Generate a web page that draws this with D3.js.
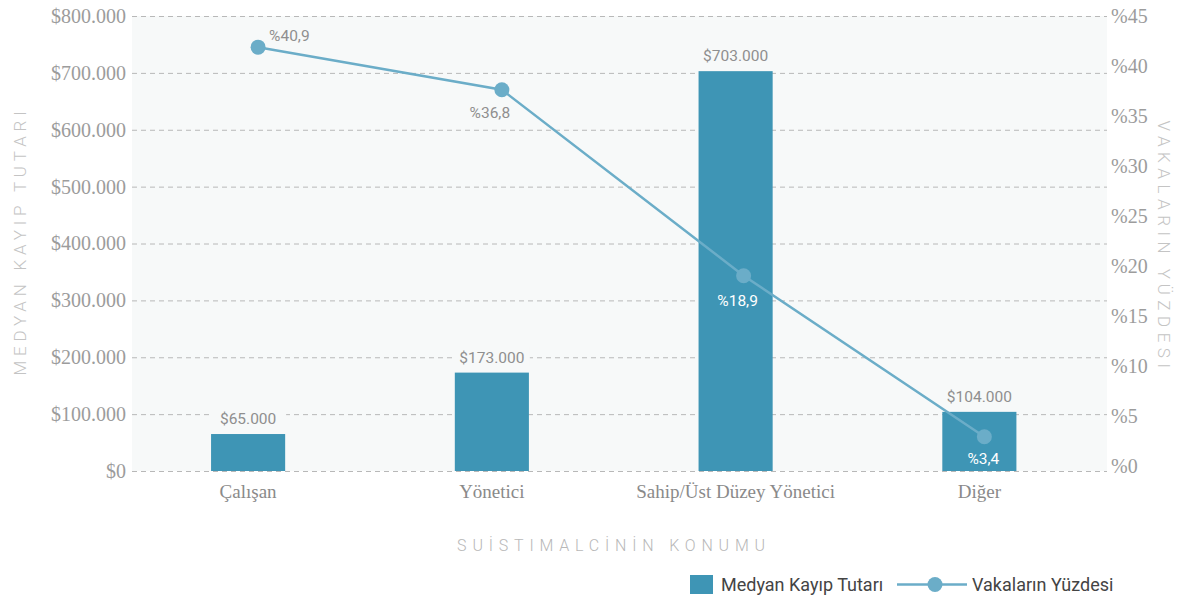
<!DOCTYPE html>
<html>
<head>
<meta charset="utf-8">
<script src="https://cdn.jsdelivr.net/npm/d3@7"></script>
<style>
  body { margin: 0; background: #fff; }
  svg { display: block; }
</style>
</head>
<body>
<div id="chart"></div>
<script>
// chart data
const categories = ['Çalışan', 'Yönetici', 'Sahip/Üst Düzey Yönetici', 'Diğer'];
const lossValues = [65000, 173000, 703000, 104000];
const casePercents = [40.9, 36.8, 18.9, 3.4];
const leftTicks = [0, 100000, 200000, 300000, 400000, 500000, 600000, 700000, 800000];
const rightTicks = [0, 5, 10, 15, 20, 25, 30, 35, 40, 45];

const W = 1180, H = 600;
const margin = { top: 16, right: 73, bottom: 129, left: 132 };
const innerW = W - margin.left - margin.right;
const innerH = H - margin.top - margin.bottom;

const barColor = '#3e95b5';
const lineColor = '#6badc8';
const plotBg = '#f7f9f9';

const fmtMoney = v => '$' + d3.format(',')(v).replace(/,/g, '.');
const fmtPct = v => '%' + String(v).replace('.', ',');

const svg = d3.select('#chart').append('svg')
    .attr('width', W)
    .attr('height', H);

const g = svg.append('g')
    .attr('transform', `translate(${margin.left},${margin.top})`);

// Scales
const x = d3.scaleBand()
    .domain(categories)
    .range([0, innerW])
    .paddingInner(0.696)
    .paddingOuter(0.348)
    .align(0.466);

const yLeft = d3.scaleLinear().domain([0, 800000]).range([innerH, 0]);
// right axis labels sit a bit above the gridlines
const yRightAxis = d3.scaleLinear().domain([0, 45]).range([innerH - 5, 0]);
const yLine = d3.scaleLinear().domain([0, 43.9]).range([innerH + 1, 0]);

// background
g.append('rect')
    .attr('width', innerW)
    .attr('height', innerH)
    .attr('fill', plotBg);

// gridlines
g.selectAll('.grid')
    .data(leftTicks)
    .enter().append('line')
    .attr('x1', 0)
    .attr('x2', innerW)
    .attr('y1', d => yLeft(d) + 0.5)
    .attr('y2', d => yLeft(d) + 0.5)
    .style('stroke', '#b8b8b8')
    .style('stroke-width', 1)
    .style('stroke-dasharray', '5,4');

// left axis
const leftAxis = g.append('g')
    .call(d3.axisLeft(yLeft).tickValues(leftTicks).tickFormat(fmtMoney).tickSize(0).tickPadding(6));
leftAxis.select('.domain').remove();
leftAxis.selectAll('text')
    .style('font-family', '"Liberation Serif", serif')
    .style('font-size', '20px')
    .style('fill', '#9c9c9c');

// right axis
const rightAxis = g.append('g')
    .attr('transform', `translate(${innerW},0)`)
    .call(d3.axisRight(yRightAxis).tickValues(rightTicks).tickFormat(d => '%' + d).tickSize(0).tickPadding(4));
rightAxis.select('.domain').remove();
rightAxis.selectAll('text')
    .style('font-family', '"Liberation Serif", serif')
    .style('font-size', '20px')
    .style('fill', '#9c9c9c');

// x axis
const xAxis = g.append('g')
    .attr('transform', `translate(0,${innerH})`)
    .call(d3.axisBottom(x).tickSize(0).tickPadding(14));
xAxis.select('.domain').remove();
xAxis.selectAll('text')
    .style('font-family', '"Liberation Serif", serif')
    .style('font-size', '19px')
    .style('fill', '#8a8a8a');

// bars
g.selectAll('.bar')
    .data(lossValues)
    .enter().append('rect')
    .attr('class', 'bar')
    .attr('x', (d, i) => x(categories[i]))
    .attr('y', d => yLeft(d))
    .attr('width', x.bandwidth())
    .attr('height', d => innerH - yLeft(d))
    .attr('fill', barColor);

// bar labels with a background box to cut the gridline
const barLabels = g.selectAll('.bar-label')
    .data(lossValues)
    .enter().append('g')
    .attr('transform', (d, i) => `translate(${x(categories[i]) + x.bandwidth() / 2},${yLeft(d) - 10})`);
barLabels.append('rect')
    .attr('x', -38)
    .attr('y', -16)
    .attr('width', 76)
    .attr('height', 20)
    .attr('fill', plotBg);
barLabels.append('text')
    .attr('text-anchor', 'middle')
    .text(d => fmtMoney(d))
    .style('font-family', 'Roboto, sans-serif')
    .style('font-size', '15.5px')
    .style('fill', '#8f8f8f');

// line
const lineX = i => x(categories[i]) + x.bandwidth() / 2 + [10, 10, 8, 5][i];
const line = d3.line()
    .x((d, i) => lineX(i))
    .y(d => yLine(d));

g.append('path')
    .datum(casePercents)
    .attr('d', line)
    .style('fill', 'none')
    .style('stroke', lineColor)
    .style('stroke-width', 2.5);

g.selectAll('.dot')
    .data(casePercents)
    .enter().append('circle')
    .attr('cx', (d, i) => lineX(i))
    .attr('cy', d => yLine(d))
    .attr('r', 7.5)
    .attr('fill', lineColor);

// point labels: first above right, rest below
const pctLabelPos = [
    { dx: 11, dy: -6, anchor: 'start', color: '#8f8f8f' },
    { dx: -12, dy: 28, anchor: 'middle', color: '#8f8f8f' },
    { dx: -6, dy: 30, anchor: 'middle', color: '#ffffff' },
    { dx: -1, dy: 27, anchor: 'middle', color: '#ffffff' }
];
g.selectAll('.pct-label')
    .data(casePercents)
    .enter().append('text')
    .attr('x', (d, i) => lineX(i) + pctLabelPos[i].dx)
    .attr('y', (d, i) => yLine(d) + pctLabelPos[i].dy)
    .attr('text-anchor', (d, i) => pctLabelPos[i].anchor)
    .text(d => fmtPct(d))
    .style('font-family', 'Roboto, sans-serif')
    .style('font-size', '15.5px')
    .style('fill', (d, i) => pctLabelPos[i].color);

// axis titles
svg.append('text')
    .attr('transform', `translate(26,241) rotate(-90)`)
    .attr('text-anchor', 'middle')
    .text('MEDYAN KAYIP TUTARI')
    .style('font-family', 'Roboto, sans-serif')
    .style('font-size', '17px')
    .style('font-weight', '300')
    .style('letter-spacing', '4.8px')
    .style('fill', '#c4c4c4');

svg.append('text')
    .attr('transform', `translate(1158,247) rotate(90)`)
    .attr('text-anchor', 'middle')
    .text('VAKALARIN YÜZDESI')
    .style('font-family', 'Roboto, sans-serif')
    .style('font-size', '17px')
    .style('font-weight', '300')
    .style('letter-spacing', '5.5px')
    .style('fill', '#c4c4c4');

svg.append('text')
    .attr('x', 614)
    .attr('y', 551)
    .attr('text-anchor', 'middle')
    .text('SUİSTIMALCİNİN KONUMU')
    .style('font-family', 'Roboto, sans-serif')
    .style('font-size', '16px')
    .style('font-weight', '300')
    .style('letter-spacing', '5.8px')
    .style('fill', '#b8b8b8');

// legend
const legend = svg.append('g').attr('transform', 'translate(690,575)');
legend.append('rect')
    .attr('width', 23)
    .attr('height', 19)
    .attr('fill', barColor);
legend.append('text')
    .attr('x', 31)
    .attr('y', 16)
    .text('Medyan Kayıp Tutarı')
    .style('font-family', 'Roboto, sans-serif')
    .style('font-size', '18px')
    .style('fill', '#444');
legend.append('line')
    .attr('x1', 207).attr('x2', 277)
    .attr('y1', 9.5).attr('y2', 9.5)
    .style('stroke', lineColor)
    .style('stroke-width', 2.5);
legend.append('circle')
    .attr('cx', 245)
    .attr('cy', 9.5)
    .attr('r', 7.5)
    .attr('fill', lineColor);
legend.append('text')
    .attr('x', 282)
    .attr('y', 16)
    .text('Vakaların Yüzdesi')
    .style('font-family', 'Roboto, sans-serif')
    .style('font-size', '18px')
    .style('fill', '#444');
</script>
</body>
</html>
